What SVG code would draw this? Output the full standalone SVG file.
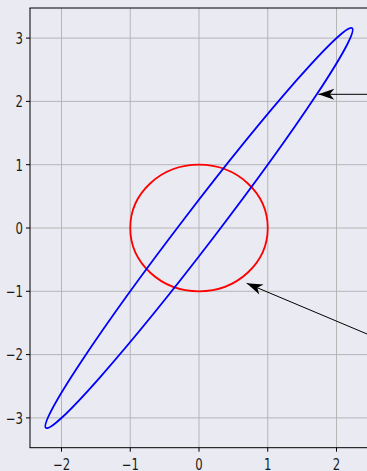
<svg xmlns="http://www.w3.org/2000/svg" width="367" height="471" viewBox="0 0 367 471">
<defs>
<style>
.grid{stroke:#b0b0b0;stroke-width:0.9;fill:none}
.spine{stroke:#000;stroke-width:1;fill:none}
.tick{stroke:#000;stroke-width:1}
.lbl{font-family:"DejaVu Sans",sans-serif;font-size:15px;fill:#1a1a1a}
.conn{stroke:#000;stroke-width:1;fill:none;marker-end:url(#head)}
</style>
<marker id="head" markerUnits="userSpaceOnUse" orient="auto" refX="0" refY="0" markerWidth="20" markerHeight="14" overflow="visible">
<path d="M0,0 L-16,-5.5 L-11.5,0 L-16,5.5 Z" fill="#000"/>
</marker>
</defs>
<rect x="0" y="0" width="367" height="471" fill="#eaeaf2"/>
<g id="grid" class="grid">
<line x1="61.5" y1="8" x2="61.5" y2="447.7"/>
<line x1="130.25" y1="8" x2="130.25" y2="447.7"/>
<line x1="199" y1="8" x2="199" y2="447.7"/>
<line x1="267.75" y1="8" x2="267.75" y2="447.7"/>
<line x1="336.5" y1="8" x2="336.5" y2="447.7"/>
<line x1="30" y1="38.1" x2="367" y2="38.1"/>
<line x1="30" y1="101.4" x2="367" y2="101.4"/>
<line x1="30" y1="164.7" x2="367" y2="164.7"/>
<line x1="30" y1="228" x2="367" y2="228"/>
<line x1="30" y1="291.3" x2="367" y2="291.3"/>
<line x1="30" y1="354.6" x2="367" y2="354.6"/>
<line x1="30" y1="417.9" x2="367" y2="417.9"/>
</g>
<g id="circle">
<ellipse cx="199" cy="228" rx="68.75" ry="63.3" fill="none" stroke="#ff0000" stroke-width="1.8"/>
</g>
<g id="ellipse">
<ellipse cx="199" cy="228" rx="251.8" ry="17.28" transform="rotate(-52.55 199 228)" fill="none" stroke="#0000ff" stroke-width="1.8"/>
</g>
<g id="spines" class="spine">
<line x1="30" y1="8" x2="30" y2="447.7"/>
<line x1="29.5" y1="8" x2="367" y2="8"/>
<line x1="29.5" y1="447.7" x2="367" y2="447.7"/>
</g>
<g id="ticks" class="tick">
<line x1="26" y1="38.1" x2="30" y2="38.1"/>
<line x1="26" y1="101.4" x2="30" y2="101.4"/>
<line x1="26" y1="164.7" x2="30" y2="164.7"/>
<line x1="26" y1="228" x2="30" y2="228"/>
<line x1="26" y1="291.3" x2="30" y2="291.3"/>
<line x1="26" y1="354.6" x2="30" y2="354.6"/>
<line x1="26" y1="417.9" x2="30" y2="417.9"/>
<line x1="61.5" y1="447.7" x2="61.5" y2="451.7"/>
<line x1="130.25" y1="447.7" x2="130.25" y2="451.7"/>
<line x1="199" y1="447.7" x2="199" y2="451.7"/>
<line x1="267.75" y1="447.7" x2="267.75" y2="451.7"/>
<line x1="336.5" y1="447.7" x2="336.5" y2="451.7"/>
</g>
<g id="ylabels" class="lbl" text-anchor="end">
<text transform="translate(23,43.9) scale(0.78,1)">3</text>
<text transform="translate(23,107.2) scale(0.78,1)">2</text>
<text transform="translate(23,170.5) scale(0.78,1)">1</text>
<text transform="translate(23,233.8) scale(0.78,1)">0</text>
<text transform="translate(23,297.1) scale(0.78,1)">−1</text>
<text transform="translate(23,360.4) scale(0.78,1)">−2</text>
<text transform="translate(23,423.7) scale(0.78,1)">−3</text>
</g>
<g id="xlabels" class="lbl" text-anchor="middle">
<text transform="translate(61.5,470.3) scale(0.78,1)">−2</text>
<text transform="translate(130.25,470.3) scale(0.78,1)">−1</text>
<text transform="translate(199,470.3) scale(0.78,1)">0</text>
<text transform="translate(267.75,470.3) scale(0.78,1)">1</text>
<text transform="translate(336.5,470.3) scale(0.78,1)">2</text>
</g>
<g id="connectors">
<line class="conn" x1="368" y1="94.3" x2="318.3" y2="94.3"/>
<line class="conn" x1="368" y1="334.4" x2="246.7" y2="283.3"/>
</g>
</svg>
